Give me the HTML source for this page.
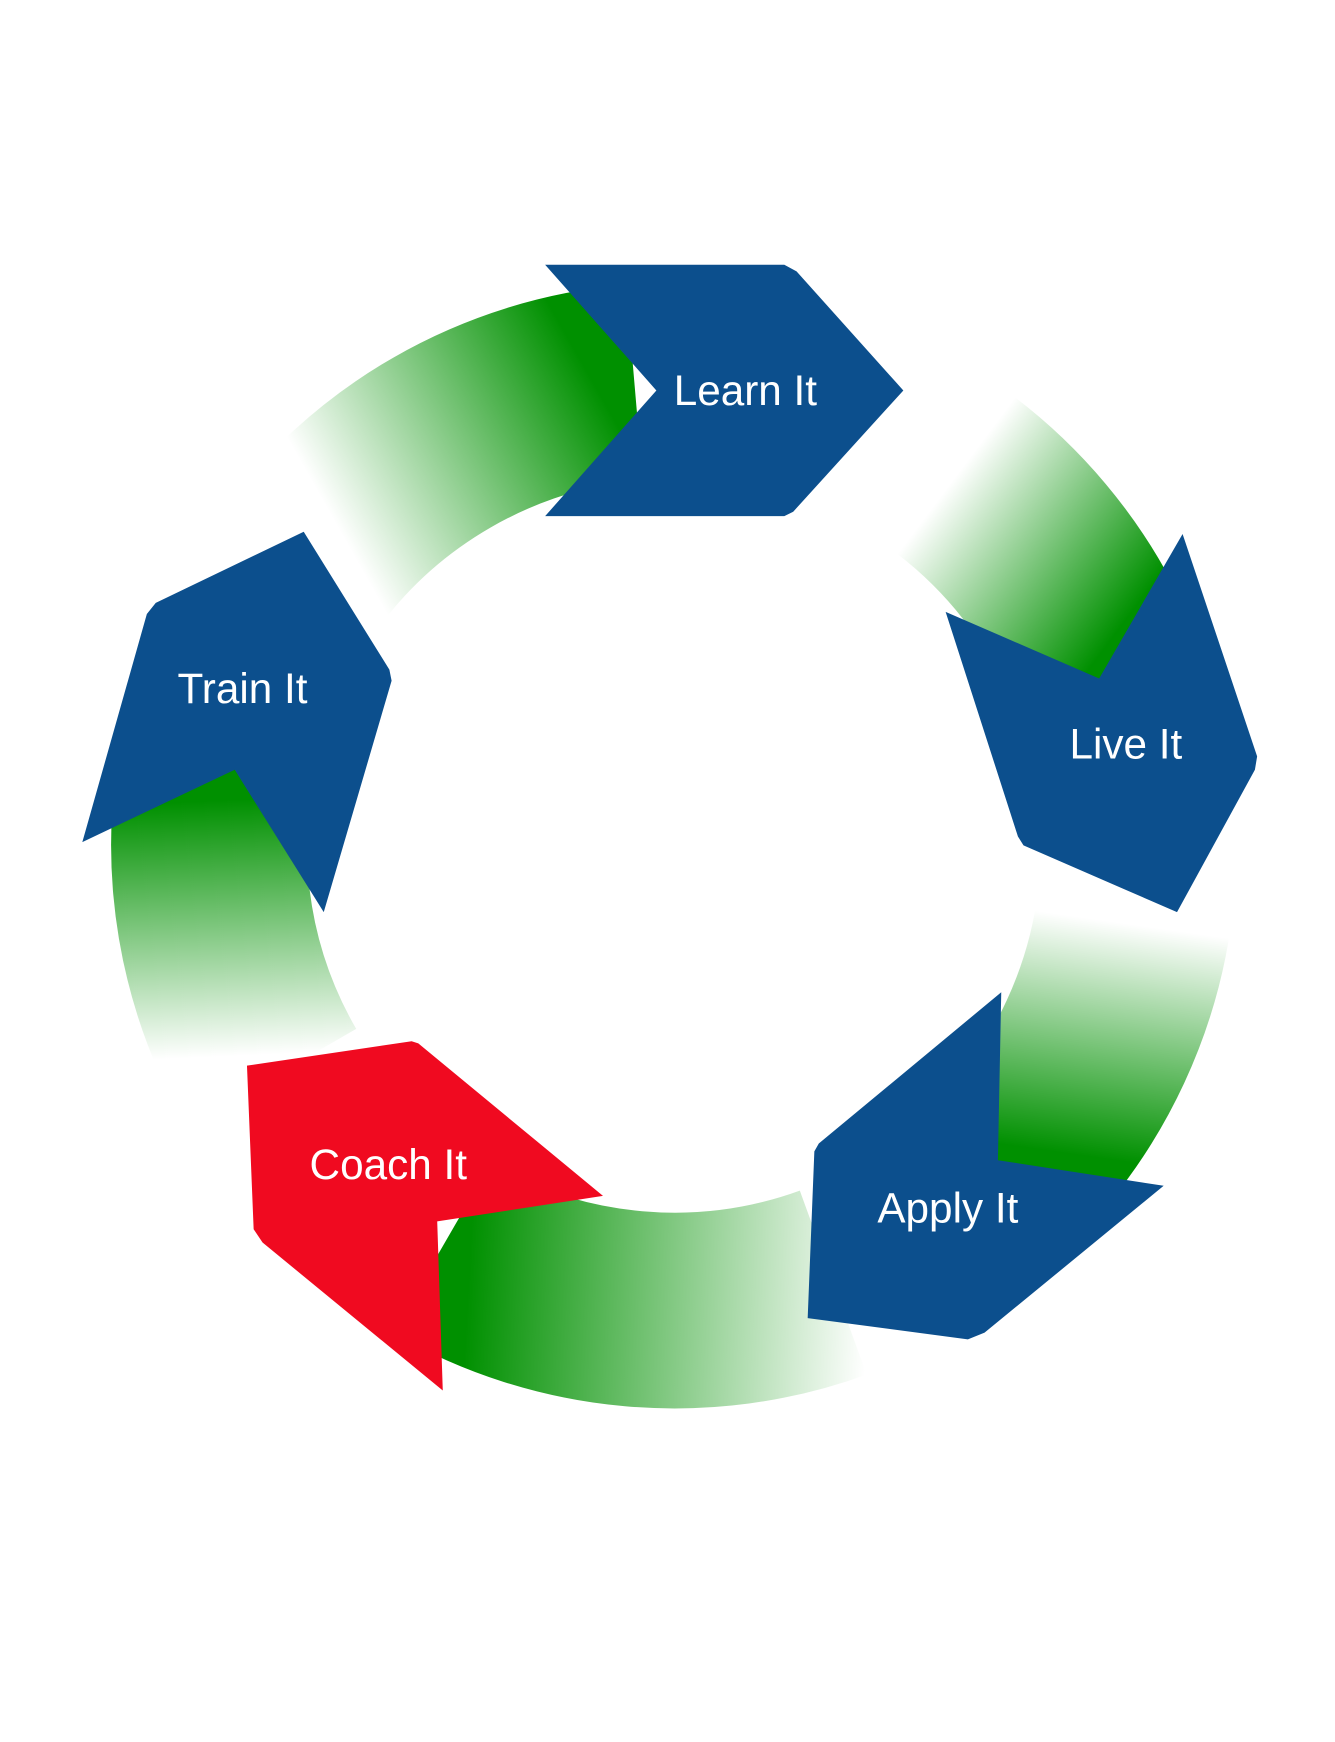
<!DOCTYPE html>
<html><head><meta charset="utf-8"><style>html,body{margin:0;padding:0;background:#fff}svg{display:block}</style></head>
<body>
<svg width="1335" height="1742" viewBox="0 0 1200 1566" preserveAspectRatio="none" xmlns="http://www.w3.org/2000/svg">
<defs>
<linearGradient id="g1" gradientUnits="userSpaceOnUse" x1="290" y1="450" x2="520" y2="320"><stop offset="0" stop-color="#009000" stop-opacity="0"/><stop offset="1" stop-color="#009000"/></linearGradient>
<linearGradient id="g2" gradientUnits="userSpaceOnUse" x1="850" y1="440" x2="1010" y2="560"><stop offset="0" stop-color="#009000" stop-opacity="0"/><stop offset="1" stop-color="#009000"/></linearGradient>
<linearGradient id="g3" gradientUnits="userSpaceOnUse" x1="1010" y1="830" x2="980" y2="1040"><stop offset="0" stop-color="#009000" stop-opacity="0"/><stop offset="1" stop-color="#009000"/></linearGradient>
<linearGradient id="g4" gradientUnits="userSpaceOnUse" x1="780" y1="1190" x2="420" y2="1170"><stop offset="0" stop-color="#009000" stop-opacity="0"/><stop offset="1" stop-color="#009000"/></linearGradient>
<linearGradient id="g5" gradientUnits="userSpaceOnUse" x1="200" y1="950" x2="190" y2="720"><stop offset="0" stop-color="#009000" stop-opacity="0"/><stop offset="1" stop-color="#009000"/></linearGradient>
</defs>
<g fill="none" stroke-width="176">
<path d="M 263.6 520.1 A 418 418 0 0 1 570.2 343.6" stroke="url(#g1)"/>
<path d="M 815 398 A 418 418 0 0 1 998.8 617" stroke="url(#g2)"/>
<path d="M 1022 796 A 418 418 0 0 1 901.6 1055.6" stroke="url(#g3)"/>
<path d="M 749 1153 A 418 418 0 0 1 397 1122" stroke="url(#g4)"/>
<path d="M 244 969 A 418 418 0 0 1 213 617" stroke="url(#g5)"/>
</g>
<g fill="#0c4f8d">
<polygon points="490,238 705,238 716,244 812,351 713,460 705,464 490,464 590,351"/>
<polygon points="850,550 988,610 1063,480 1130,680 1128,692 1058,820 920,760 915,752"/>
<polygon points="900,892 897,1043 1046,1066 885,1198 870,1204 726,1185 732,1035 736,1028"/>
<polygon points="273,478 350,602 352,612 291,820 211,692 74,757 132,552 140,542"/>
</g>
<polygon fill="#f00a20" points="222,958 370,936 376,938 542,1075 393,1098 398,1250 236,1117 228,1105"/>
<g fill="#fff" font-family="Liberation Sans, sans-serif" font-size="38" text-anchor="middle">
<text x="670" y="364">Learn It</text>
<text x="1012" y="682">Live It</text>
<text x="852" y="1099">Apply It</text>
<text x="349" y="1060">Coach It</text>
<text x="218" y="632">Train It</text>
</g>
</svg>
</body></html>
